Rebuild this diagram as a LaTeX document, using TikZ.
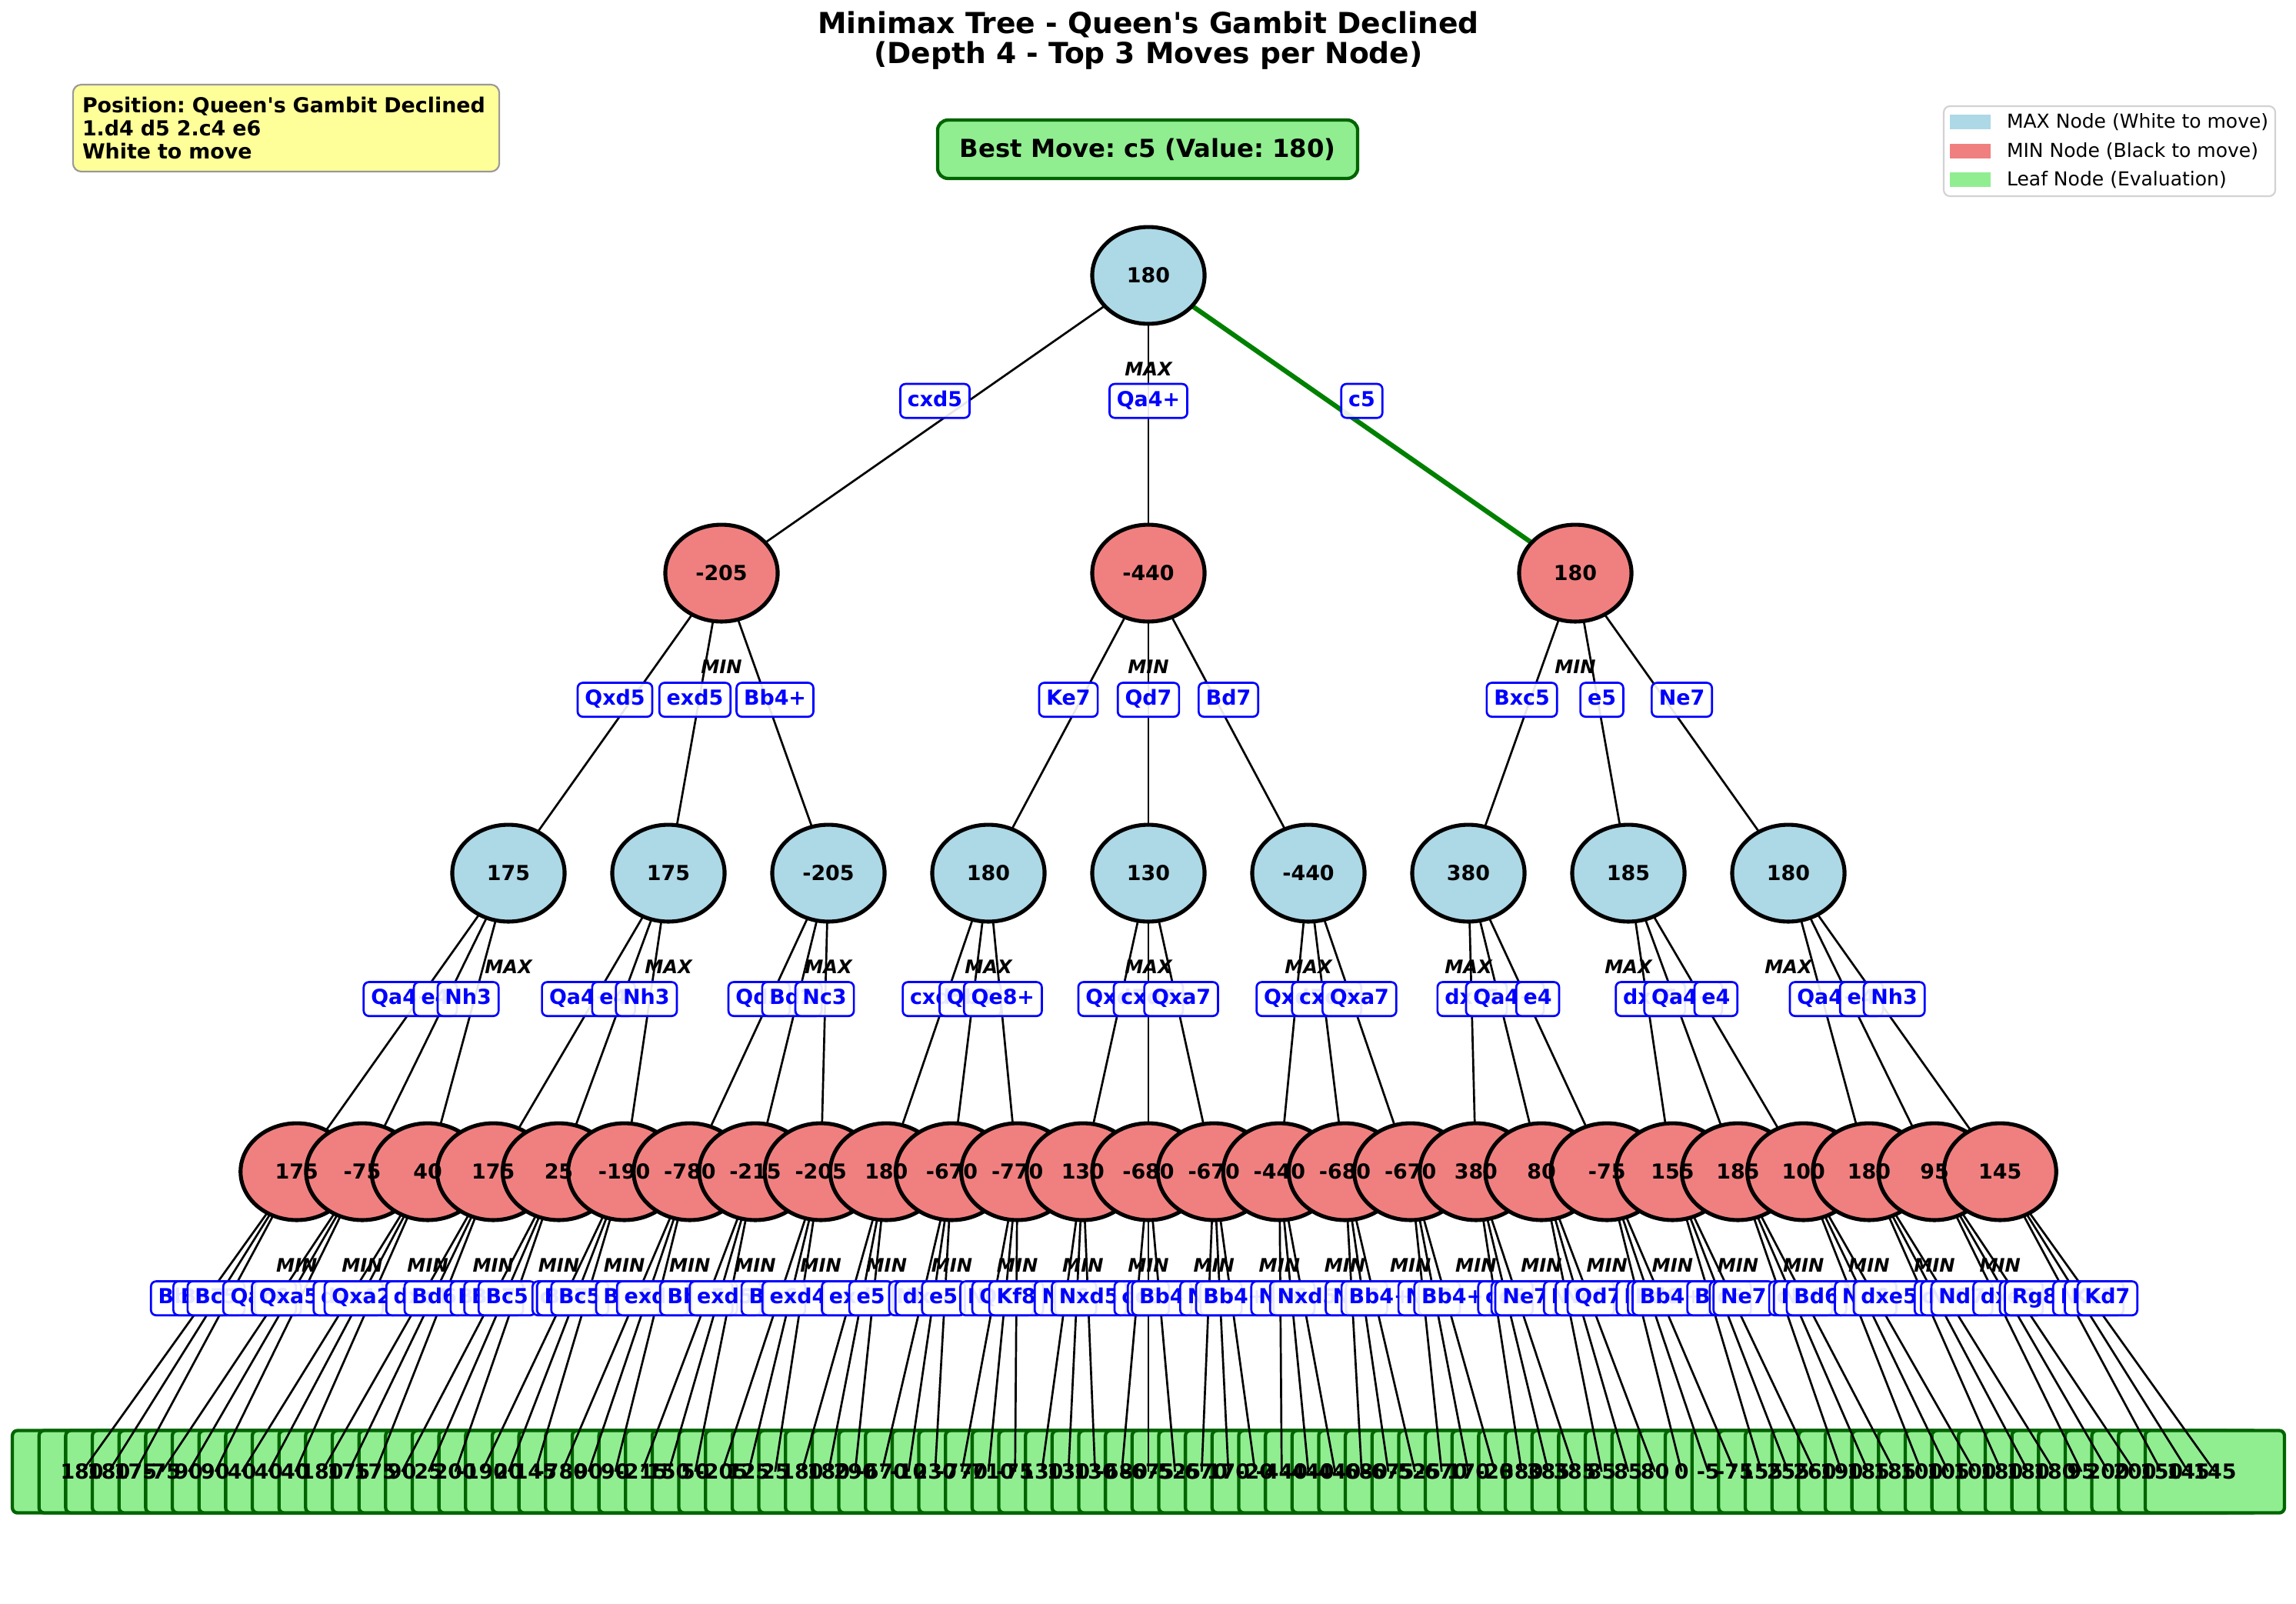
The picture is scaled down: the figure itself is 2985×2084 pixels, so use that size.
\documentclass[tikz,border=0pt]{standalone}
\usepackage{fontspec}
\setmainfont{DejaVu Sans}
\usepackage{xcolor}
\usetikzlibrary{shapes.geometric,positioning}
\frenchspacing

\pgfdeclarelayer{boxes}
\pgfdeclarelayer{edges}
\pgfdeclarelayer{front}
\pgfsetlayers{boxes,edges,main,front}

\definecolor{maxblue}{HTML}{ADD8E6}
\definecolor{minred}{HTML}{F08080}
\definecolor{leafgreen}{HTML}{90EE90}
\definecolor{darkgreen}{HTML}{006400}
\definecolor{pathgreen}{HTML}{008000}
\definecolor{infoyellow}{HTML}{FFFF99}

\tikzset{
  mmnode/.style={ellipse, draw=black, line width=1.9pt, minimum width=54.3pt, minimum height=46.8pt, inner sep=0pt},
  maxnode/.style={mmnode, fill=maxblue},
  minnode/.style={mmnode, fill=minred},
  valtext/.style={font=\fontsize{10}{12}\selectfont\bfseries, inner sep=0pt},
  leafbox/.style={draw=darkgreen, fill=leafgreen, line width=1.6pt, rounded corners=2.5pt, minimum width=67.3pt, minimum height=39.8pt, inner sep=0pt},
  movelbl/.style={draw=blue, fill=white, fill opacity=0.9, text opacity=1, line width=1pt, rounded corners=2.5pt, text=blue, font=\fontsize{10}{12}\selectfont\bfseries, inner xsep=3.5pt, inner ysep=3.3pt, text height=7.6pt, text depth=2.2pt, yshift=11.3pt},
  kindlbl/.style={font=\fontsize{9}{11}\selectfont\bfseries\itshape, inner sep=0pt},
  edge/.style={line width=1pt, draw=black},
  bestedge/.style={line width=2.3pt, draw=pathgreen},
  headline/.style={anchor=base, inner sep=0pt, font=\fontsize{14}{17}\selectfont\bfseries},
  infobox/.style={draw=gray!80, fill=infoyellow, line width=0.8pt, rounded corners=4pt, minimum width=206pt, minimum height=42pt, text width=197pt, inner xsep=4.5pt, align=left, font=\fontsize{10}{11}\selectfont\bfseries},
  bestbox/.style={draw=darkgreen, fill=leafgreen, line width=1.6pt, rounded corners=5pt, minimum width=203pt, minimum height=28.2pt, font=\fontsize{12}{14}\selectfont\bfseries},
  legendframe/.style={draw=gray!35, fill=white, line width=0.8pt, rounded corners=3pt, minimum width=160.2pt, minimum height=43.5pt},
  keypatch/.style={minimum width=19.7pt, minimum height=7.1pt, inner sep=0pt},
  keytext/.style={inner sep=0pt, font=\fontsize{9.3}{11}\selectfont}
}

\begin{document}
\begin{tikzpicture}[x=0.3717pt, y=-0.3717pt]
\useasboundingbox (0,0) rectangle (2985,2084);

% heading
\node[headline] (title1) at (1493,43) {Minimax Tree - Queen\textquotesingle s Gambit Declined};
\node[headline] (title2) at (1493,82) {(Depth 4 - Top 3 Moves per Node)};
\node[infobox] (position) at (372,166.5) {Position: Queen\textquotesingle s Gambit Declined\\1.d4 d5 2.c4 e6\\White to move};
\node[bestbox] (best) at (1492,194) {Best Move: c5 (Value: 180)};

% legend
\node[legendframe] (legend) at (2742.5,196.5) {};
\node[keypatch, fill=maxblue] (keymax) at (2561.5,158.5) {};
\node[keypatch, fill=minred, below=6.5pt of keymax] (keymin) {};
\node[keypatch, fill=leafgreen, below=6.5pt of keymin] (keyleaf) {};
\node[keytext, right=7.4pt of keymax] (txtmax) {MAX Node (White to move)};
\node[keytext, right=7.4pt of keymin] (txtmin) {MIN Node (Black to move)};
\node[keytext, right=7.4pt of keyleaf] (txtleaf) {Leaf Node (Evaluation)};

% tree nodes (values on the front layer)
\node[maxnode] (root) at (1493,358) {};
\begin{pgfonlayer}{front}
\node[valtext] (vroot) at (root.center) {180};
\end{pgfonlayer}
\foreach \v [count=\i from 0] in {-205,-440,180}{
  \node[minnode] (mn\i) at ({1493+(\i-1)*555},745) {};
  \begin{pgfonlayer}{front}\node[valtext] (vmn\i) at (mn\i.center) {\v};\end{pgfonlayer}
}
\foreach \v [count=\i from 0] in {175,175,-205,180,130,-440,380,185,180}{
  \node[maxnode] (mx\i) at ({1493+(\i-4)*208},1135) {};
  \begin{pgfonlayer}{front}\node[valtext] (vmx\i) at (mx\i.center) {\v};\end{pgfonlayer}
}
\foreach \v [count=\i from 0] in {175,-75,40,175,25,-190,-780,-215,-205,180,-670,-770,130,-680,-670,-440,-680,-670,380,80,-75,155,185,100,180,95,145}{
  \node[minnode] (mm\i) at ({1493+(\i-13)*85.17},1523) {};
  \begin{pgfonlayer}{front}\node[valtext] (vmm\i) at (mm\i.center) {\v};\end{pgfonlayer}
}

% leaves
\begin{pgfonlayer}{boxes}
\foreach \i in {0,...,80}
  \node[leafbox] (lf\i) at ({1493+(\i-40)*34.66},1913) {};
\end{pgfonlayer}
\begin{pgfonlayer}{front}
\foreach \v [count=\i from 0] in {180,180,175,-75,90,90,40,40,40,180,175,175,90,25,200,-190,20,145,-780,90,90,-215,150,50,-205,125,25,180,180,290,-670,-10,230,-770,-710,-75,130,130,130,-680,-675,-525,-670,170,-20,-440,-440,-440,-680,-675,-525,-670,170,-20,380,385,385,85,85,80,0,-5,-75,155,255,260,190,185,185,100,105,100,180,180,180,95,200,200,150,145,145}
  \node[valtext] (lv\i) at (lf\i.center) {\v};
\end{pgfonlayer}

% connectors
\begin{pgfonlayer}{edges}
\draw[edge] (root.center) -- (mn0.center);
\draw[edge] (root.center) -- (mn1.center);
\draw[bestedge] (root.center) -- (mn2.center);
\foreach \i in {0,...,8}{
  \pgfmathtruncatemacro\p{\i/3}
  \draw[edge] (mn\p.center) -- (mx\i.center);
}
\foreach \i in {0,...,26}{
  \pgfmathtruncatemacro\p{\i/3}
  \draw[edge] (mx\p.center) -- (mm\i.center);
}
\foreach \i in {0,...,80}{
  \pgfmathtruncatemacro\p{\i/3}
  \draw[edge] (mm\p.center) -- (lf\i.center);
}
\end{pgfonlayer}

% move labels and node kinds
\begin{pgfonlayer}{front}
\node[kindlbl] (kroot) at ([yshift=-45.3pt]root.center) {MAX};
\foreach \i in {0,...,2}
  \node[kindlbl] (kmn\i) at ([yshift=-45.3pt]mn\i.center) {MIN};
\foreach \i in {0,...,8}
  \node[kindlbl] (kmx\i) at ([yshift=-45.3pt]mx\i.center) {MAX};
\foreach \i in {0,...,26}
  \node[kindlbl] (kmm\i) at ([yshift=-45.3pt]mm\i.center) {MIN};

\foreach \t [count=\i from 0] in {cxd5,Qa4+,c5}
  \path (root.center) -- node[movelbl] (lbla\i) {\t} (mn\i.center);
\foreach \t [count=\i from 0] in {Qxd5,exd5,Bb4+,Ke7,Qd7,Bd7,Bxc5,e5,Ne7}{
  \pgfmathtruncatemacro\p{\i/3}
  \path (mn\p.center) -- node[movelbl] (lblb\i) {\t} (mx\i.center);
}
\foreach \t [count=\i from 0] in {Qa4+,e4,Nh3,Qa4+,e4,Nh3,Qd3,Bd2,Nc3,cxd5,Qb3,Qe8+,Qxd5,cxd5,Qxa7,Qxd5,cxd5,Qxa7,dxc5,Qa4+,e4,dxc5,Qa4+,e4,Qa4+,e4,Nh3}{
  \pgfmathtruncatemacro\p{\i/3}
  \path (mx\p.center) -- node[movelbl] (lblc\i) {\t} (mm\i.center);
}
\foreach \t [count=\i from 0] in {Bb4+,Be7,Bc5,Qa5+,c6,Qxa5,c5,dxc4,Qxa2,c6,dxc4,Bd6,Bb4,Be7,Bc5,c5,Be7,Bc5,Bb4,c6,exd5,Bb4+,c5,exd5,Bd6,c6,exd4,c6,exd5,e5,Nf6,dxc4,e5,Nc6,Qd7,Kf8,Nf6,c6,Nxd5,c6,c5,Bb4,Nf6,c6,Bb4+,Nc6,c6,Nxd5,Nf6,c6,Bb4+,Nf6,c5,Bb4+,c6,c5,Ne7,Nf6,Nc6,Qd7,Nf6,Bd6,Bb4+,Bd6,c5,Ne7,c6,Nc6,Bd6,Nf6,c6,dxe5,c6,Nf6,Nd7,dxc4,e5,Rg8,Nf6,Ke7,Kd7}{
  \pgfmathtruncatemacro\p{\i/3}
  \path (mm\p.center) -- node[movelbl] (lbld\i) {\t} (lf\i.center);
}
\end{pgfonlayer}
\end{tikzpicture}
\end{document}
